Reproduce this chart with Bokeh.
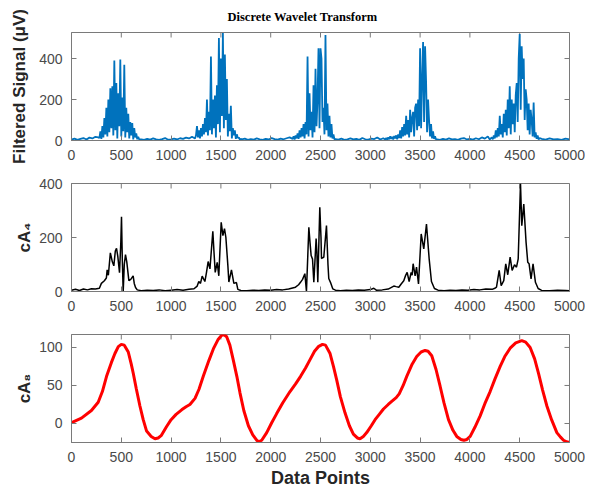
import numpy as np
from bokeh.plotting import figure
from bokeh.layouts import column
from bokeh.models import FixedTicker, Range1d
from bokeh.embed import file_html
from bokeh.resources import INLINE

# ---------------- data ----------------
x_ticks = [0, 500, 1000, 1500, 2000, 2500, 3000, 3500, 4000, 4500, 5000]

# Filtered signal (µV): segments (start, step, values)
sig_base0 = [4, 9, 3, 8, 12, 5, 14, 10, 18, 15]
sig_burst1 = [12, 45, 8, 70, 15, 110, 30, 160, 20, 200, 40, 255, 60, 265, 25, 390, 50, 280, 10, 230,
              70, 395, 20, 210, 45, 370, 15, 160, 40, 130, 10, 90, 25, 85, 5, 60, 15, 35, 6, 18, 5]
sig_base1 = [6, 3, 8, 4, 10, 5, 3, 7, 12, 4, 6, 9, 5, 11, 8, 14, 10, 18]
sig_burst2 = [10, 25, 70, 15, 50, 10, 60, 20, 80, 30, 110, 40, 200, 25, 140, 50, 410, 30, 200, 60,
              220, 15, 270, 80, 500, 40, 400, 120, 525, 60, 420, 100, 300, 20, 130, 45, 170, 10, 60, 25,
              50, 8, 30, 12, 15, 4, 8]
sig_base2 = [5, 9, 3, 7, 4, 10, 6, 3, 8, 5, 12, 7, 4, 9, 6, 11, 15]
sig_burst3 = [8, 20, 5, 25, 10, 35, 8, 50, 15, 60, 20, 80, 10, 90, 30, 410, 20, 230, 50, 140,
              15, 270, 40, 350, 70, 200, 450, 60, 450, 400, 90, 160, 30, 515, 50, 180, 20, 120, 15, 80,
              10, 30, 6]
sig_base3 = [7, 4, 9, 3, 6, 10, 5, 8, 3, 12, 6, 4, 9, 7, 15, 5, 11]
sig_burst4 = [5, 12, 4, 15, 6, 20, 8, 18, 5, 22, 10, 25, 6, 30, 12, 50, 10, 65, 20, 80,
              25, 120, 30, 100, 15, 150, 40, 110, 140, 20, 160, 180, 50, 200, 70, 450, 60, 300, 480, 90,
              460, 290, 40, 200, 100, 20, 80, 10, 45, 8, 20, 5]
sig_base4 = [6, 3, 8, 4, 10, 5, 7, 3, 9, 12, 5, 8, 4, 11, 6, 15, 9, 20]
sig_burst5 = [5, 10, 15, 6, 25, 10, 50, 15, 60, 20, 120, 30, 80, 15, 130, 40, 150, 25, 200, 60,
              265, 30, 200, 80, 180, 40, 220, 280, 90, 400, 520, 150, 460, 300, 400, 100, 250, 200, 50, 180,
              30, 150, 100, 20, 185, 15, 40, 8, 25, 5, 12]
sig_base5 = [8, 4, 10, 5, 7, 3, 9, 6]

sig_segments = [(0, 30, sig_base0), (280, 10, sig_burst1), (700, 30, sig_base1),
                (1240, 10, sig_burst2), (1710, 30, sig_base2), (2220, 10, sig_burst3),
                (2650, 30, sig_base3), (3150, 10, sig_burst4), (3670, 30, sig_base4),
                (4200, 10, sig_burst5), (4720, 40, sig_base5)]

# cA4 approximation coefficients
ca4_x = [0, 40, 80, 120, 160, 200, 240, 280, 300, 330, 350, 358, 370, 390, 410, 425, 440, 452, 465, 482,
         495, 502, 510, 519, 530, 542, 555, 576, 595, 619, 630, 643, 660, 700, 760, 820, 880, 940, 1000, 1060,
         1120, 1180, 1230, 1262, 1278, 1295, 1312, 1339, 1355, 1372, 1390, 1419, 1430, 1443, 1463, 1479, 1503, 1520, 1536, 1550,
         1570, 1580, 1606, 1630, 1656, 1670, 1700, 1760, 1820, 1880, 1940, 2000, 2060, 2120, 2180, 2249, 2280, 2299, 2320, 2343,
         2359, 2383, 2395, 2406, 2420, 2433, 2456, 2463, 2473, 2493, 2505, 2510, 2520, 2533, 2560, 2575, 2583, 2600, 2623, 2650,
         2700, 2760, 2820, 2880, 2940, 3000, 3035, 3060, 3120, 3180, 3236, 3260, 3286, 3310, 3336, 3355, 3370, 3390, 3410, 3420,
         3430, 3450, 3464, 3484, 3511, 3537, 3564, 3591, 3614, 3644, 3680, 3740, 3800, 3860, 3920, 3980, 4040, 4100, 4160, 4224,
         4250, 4267, 4294, 4314, 4340, 4360, 4380, 4404, 4424, 4448, 4468, 4485, 4508, 4521, 4541, 4564, 4581, 4594, 4614, 4634,
         4658, 4685, 4720, 4800, 4880, 4960, 5000]
ca4_y = [5, 8, 4, 9, 6, 10, 9, 12, 30, 40, 50, 80, 60, 143, 110, 95, 150, 160, 130, 70,
         180, 277, 120, 0, 100, 137, 110, 40, 45, 58, 30, 15, 6, 3, 5, 4, 6, 3, 5, 7,
         5, 8, 10, 20, 37, 30, 57, 37, 70, 111, 84, 223, 150, 71, 108, 58, 256, 207, 233, 200,
         96, 35, 80, 30, 33, 8, 4, 3, 5, 4, 6, 5, 7, 6, 9, 16, 25, 34, 45, 66,
         0, 238, 180, 133, 120, 34, 196, 150, 34, 312, 200, 122, 125, 127, 244, 100, 48, 34, 10, 5,
         3, 5, 4, 6, 5, 7, 12, 5, 6, 9, 20, 18, 16, 28, 40, 60, 71, 37, 71, 60,
         103, 58, 90, 28, 213, 158, 250, 121, 37, 11, 5, 3, 5, 4, 6, 5, 7, 6, 9, 8,
         12, 16, 78, 22, 40, 102, 62, 127, 78, 99, 90, 121, 400, 244, 324, 182, 108, 103, 47, 102,
         34, 11, 4, 3, 5, 4, 3]

# cA8 approximation coefficients
ca8_x = [0, 100, 200, 268, 310, 352, 400, 436, 470, 500, 530, 570, 600, 620, 650, 687, 720, 754, 800, 838,
         870, 900, 955, 1000, 1050, 1106, 1150, 1189, 1240, 1280, 1323, 1380, 1424, 1470, 1508, 1530, 1558, 1590, 1625, 1660,
         1692, 1730, 1776, 1820, 1859, 1880, 1910, 1960, 2010, 2060, 2120, 2194, 2250, 2300, 2350, 2395, 2440, 2478, 2520, 2550,
         2596, 2630, 2663, 2700, 2746, 2790, 2830, 2870, 2897, 2930, 2964, 3010, 3048, 3090, 3132, 3180, 3215, 3260, 3290, 3330,
         3366, 3420, 3466, 3510, 3550, 3580, 3617, 3660, 3701, 3740, 3785, 3830, 3868, 3910, 3940, 3970, 4003, 4050, 4103, 4150,
         4203, 4250, 4304, 4350, 4404, 4460, 4521, 4560, 4605, 4650, 4689, 4730, 4773, 4820, 4873, 4910, 4940, 4970, 5000]
ca8_y = [1, 7, 17, 28, 42, 62, 80, 92, 101, 104, 103, 94, 78, 66, 46, 23, 5, -10, -17, -20,
         -19, -16, -4, 5, 12, 18, 22, 25, 33, 45, 62, 83, 98, 110, 116, 117, 114, 103, 83, 62,
         40, 17, -3, -15, -22, -24, -22, -12, 1, 13, 27, 42, 52, 62, 73, 84, 95, 101, 104, 103,
         92, 75, 57, 35, 14, -3, -14, -19, -20, -17, -12, -3, 5, 12, 19, 25, 29, 34, 39, 50,
         62, 78, 88, 94, 96, 95, 89, 71, 49, 27, 5, -9, -17, -21, -22, -21, -17, -5, 10, 26,
         42, 58, 75, 88, 99, 106, 109, 107, 100, 85, 66, 44, 23, 5, -12, -18, -22, -24, -25]

# ---------------- styling helpers ----------------
GRAY = "#7a7a7a"
TICK_COLOR = "#4a4a4a"
FONT = "Liberation Sans"
FW = 498


def style_axis(ax, ticks):
    ax.ticker = FixedTicker(ticks=ticks)
    ax.axis_line_color = GRAY
    ax.major_tick_line_color = GRAY
    ax.minor_tick_line_color = None
    ax.major_tick_in = 5
    ax.major_tick_out = 0
    ax.major_label_text_font = FONT
    ax.major_label_text_color = TICK_COLOR
    ax.major_label_text_font_size = "14px"
    ax.major_label_standoff = 9


def make_panel(y_lo, y_hi, y_ticks, ylabel, ylabel_size, ylabel_standoff, top, bottom, fh,
               title=None, xlabel=None):
    kw = dict(frame_width=FW, frame_height=fh, x_range=Range1d(0, 5000), y_range=Range1d(y_lo, y_hi),
              output_backend="svg", toolbar_location=None, min_border_left=71, min_border_right=16,
              min_border_top=top, min_border_bottom=bottom, background_fill_color="white",
              border_fill_color="white", outline_line_color=GRAY)
    if title:
        kw["title"] = title
    p = figure(**kw)
    p.grid.visible = False
    style_axis(p.xaxis[0], x_ticks)
    style_axis(p.yaxis[0], y_ticks)
    p.yaxis[0].axis_label = ylabel
    p.yaxis[0].axis_label_text_font = FONT
    p.yaxis[0].axis_label_text_font_style = "bold"
    p.yaxis[0].axis_label_text_font_size = ylabel_size
    p.yaxis[0].axis_label_text_color = "#262626"
    p.yaxis[0].axis_label_standoff = ylabel_standoff
    if xlabel:
        p.xaxis[0].axis_label = xlabel
        p.xaxis[0].axis_label_text_font = FONT
        p.xaxis[0].axis_label_text_font_style = "bold"
        p.xaxis[0].axis_label_text_font_size = "18px"
        p.xaxis[0].axis_label_text_color = "#262626"
        p.xaxis[0].axis_label_standoff = 3
    # mirrored (box) tick marks on the right and top edges, pointing inward
    p.ray(x=[5000] * len(y_ticks), y=y_ticks, length=5, length_units="screen",
          angle=np.pi, line_color=GRAY, line_width=1)
    p.ray(x=x_ticks, y=[y_hi] * len(x_ticks), length=5, length_units="screen",
          angle=-np.pi / 2, line_color=GRAY, line_width=1)
    if title:
        p.title.text_font = "Liberation Serif"
        p.title.text_font_style = "bold"
        p.title.text_font_size = "12.5px"
        p.title.align = "left"
        p.title.offset = 156
        p.title.text_color = "black"
        p.title.vertical_align = "top"
        p.title.standoff = 14
    return p


# Panel 1: filtered signal
p1 = make_panel(0, 527, [0, 200, 400], "Filtered Signal (μV)", "17px", 7, 32, 28, 108,
                title="Discrete Wavelet Transform")
sig_x = np.concatenate([start + step * np.arange(len(vals)) for start, step, vals in sig_segments])
sig_y = np.concatenate([np.asarray(vals, dtype=float) for _, _, vals in sig_segments])
p1.line(sig_x, sig_y, line_color="#0072BD", line_width=1.8)

# Panel 2: cA4
p2 = make_panel(0, 400, [0, 200, 400], "cA₄", "17px", 2, 15, 28, 108)
p2.line(ca4_x, ca4_y, line_color="black", line_width=1.5)

# Panel 3: cA8
p3 = make_panel(-25, 117, [0, 50, 100], "cA₈", "17px", 2, 15, 49, 108, xlabel="Data Points")
p3.line(ca8_x, ca8_y, line_color="#FF0000", line_width=3)

layout = column(p1, p2, p3, spacing=0)
open("out.html", "w").write(file_html(layout, INLINE))
